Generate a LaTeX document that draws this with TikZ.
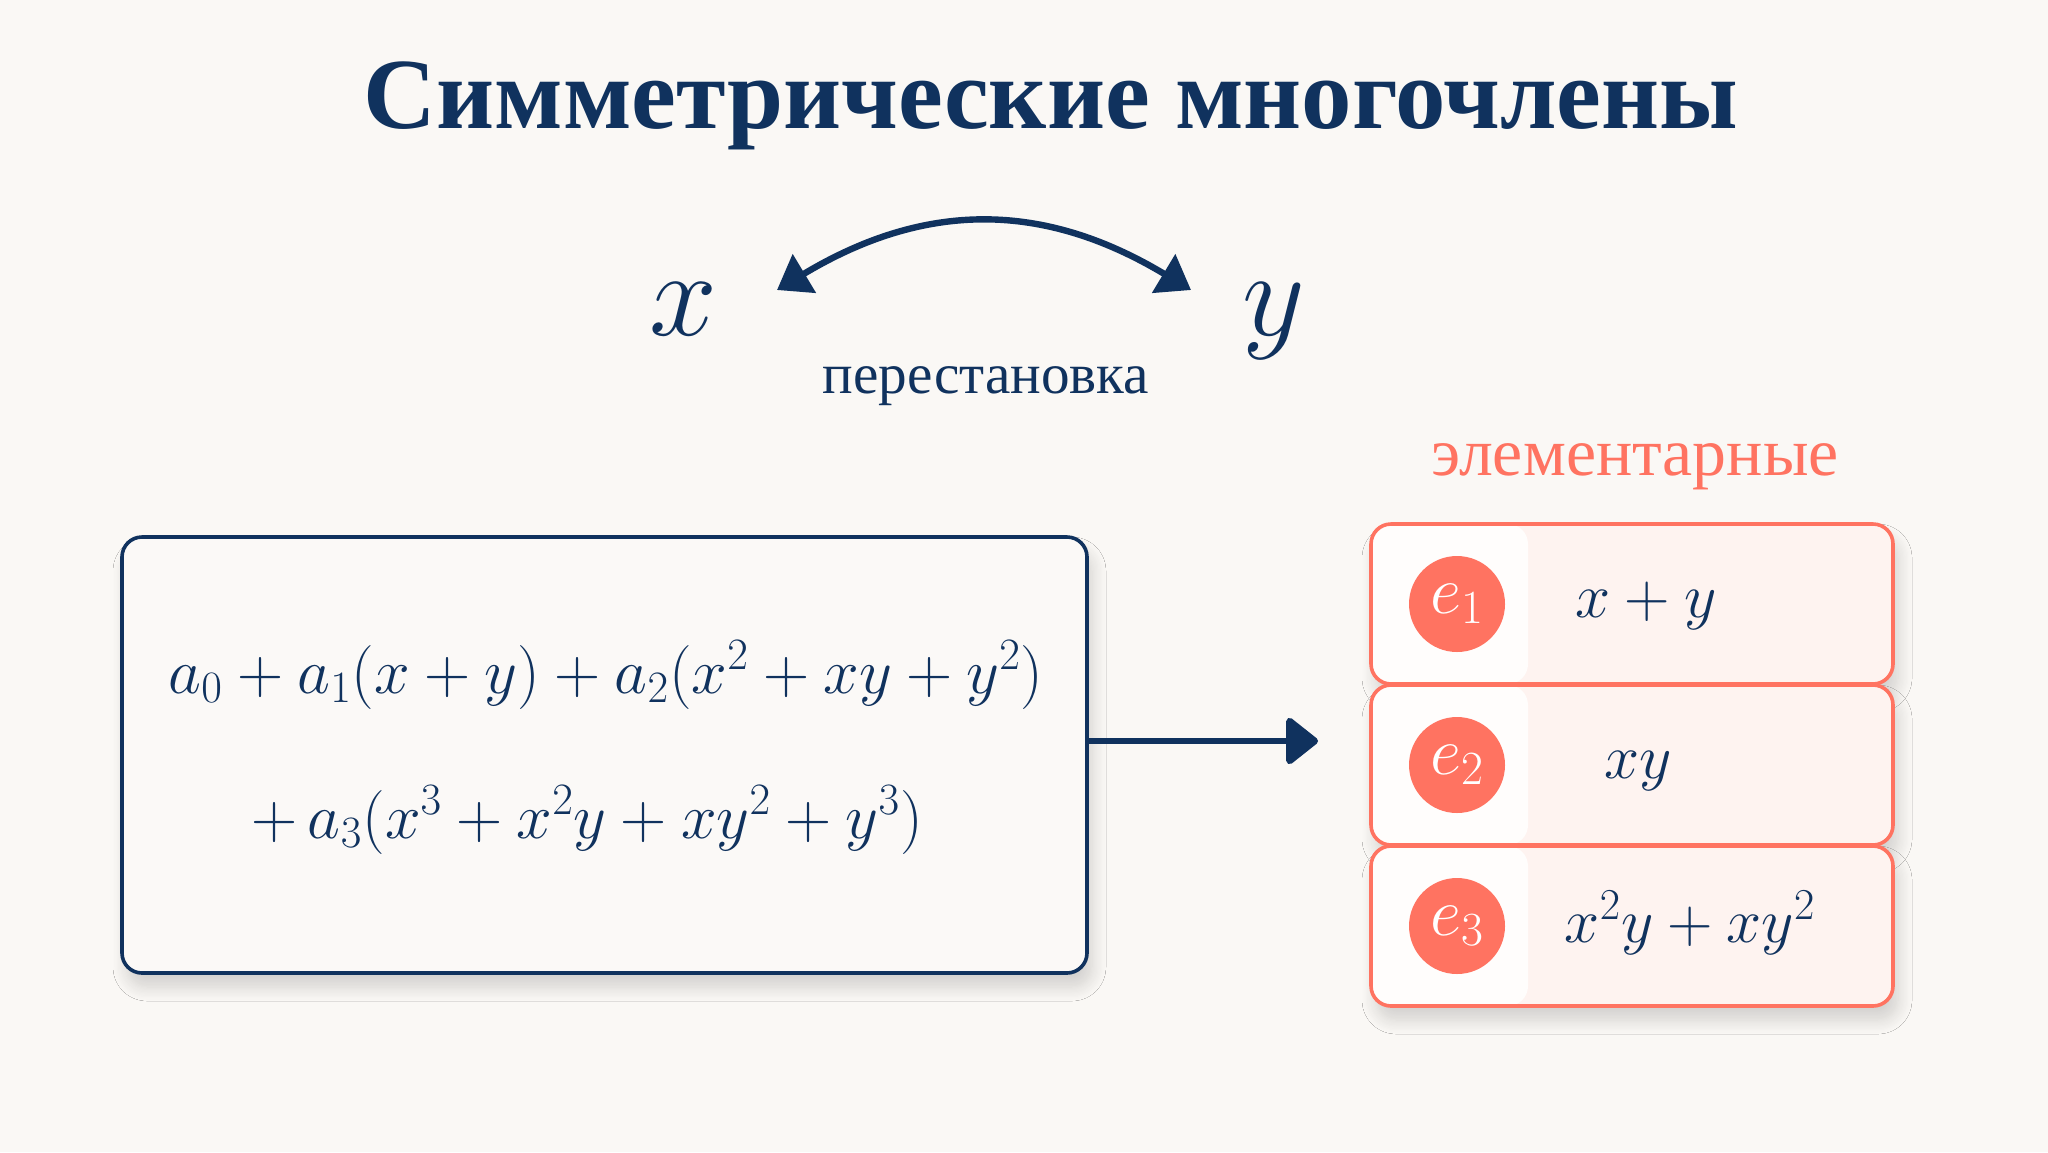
\RequirePackage{fix-cm}
\documentclass[tikz,border=0pt]{standalone}
\usepackage[no-math]{fontspec}
\setmainfont{Liberation Serif}
\usetikzlibrary{arrows.meta,shadows.blur}
\definecolor{navy}{HTML}{10325E}
\definecolor{coral}{HTML}{FF7361}
\definecolor{pinkfill}{HTML}{FEF3F0}
\definecolor{leftfill}{HTML}{FFFDFC}
\definecolor{bg}{HTML}{FAF8F5}
\definecolor{boxfill}{HTML}{FBF9F7}
\tikzset{
  mathfont/.style={font=\fontsize{31.5}{36}\selectfont, text=navy},
  bigmath/.style={font=\fontsize{32}{38}\selectfont, text=navy},
  softshadow/.style={blur shadow={shadow xshift=2.5pt, shadow yshift=-7pt, shadow blur radius=7pt,
    shadow blur extra rounding=5pt, shadow blur steps=12, shadow opacity=16}},
  mainbox/.style={draw=navy, line width=1.8pt, fill=boxfill, rounded corners=10pt,
    minimum width=482.5pt, minimum height=218pt, softshadow},
  elbox/.style={draw=coral, line width=1.8pt, fill=pinkfill, rounded corners=10pt,
    minimum width=261pt, minimum height=80pt, softshadow,
    path picture={\fill[leftfill] (path picture bounding box.south west) rectangle ([xshift=78.5pt]path picture bounding box.north west);}},
  badge/.style={circle, fill=coral, minimum size=48pt, inner sep=0pt, text=white, font=\fontsize{34}{38}\selectfont},
}
\begin{document}
\begin{tikzpicture}[x=0.5pt,y=-0.5pt]
\fill[bg] (0,0) rectangle (2048,1152);
\useasboundingbox (0,0) rectangle (2048,1152);

\node[font=\fontsize{50.4}{60}\selectfont\bfseries, text=navy, anchor=base] (title) at (1051,128) {Симметрические многочлены};

\node[font=\fontsize{61}{64}\selectfont, text=navy, anchor=base] (vx) at (683,335) {$x$};
\node[font=\fontsize{61}{64}\selectfont, text=navy, anchor=base] (vy) at (1274,335) {$y$};
\coordinate (arcL) at (777,290);
\coordinate (arcR) at (1191,290);
\draw[navy, line width=3.2pt, {Triangle[length=16pt,width=22pt]}-{Triangle[length=16pt,width=22pt]}]
  (arcL) .. controls (925,201) and (1043,201) .. (arcR);
\node[font=\fontsize{28.6}{32}\selectfont, text=navy, anchor=base] (perm) at (986,393) {перестановка};

\node[mainbox] (main) at (604.5,755) {};
\node[bigmath, anchor=base] (l1) at (606,693) {$a_0 + a_1(x+y) + a_2(x^2+xy+y^2)$};
\node[bigmath, anchor=base] (l2) at (587,838) {$+\, a_3(x^3+x^2y+xy^2+y^3)$};

\coordinate (atip) at (1318,741);
\draw[navy, line width=3.4pt, -{Triangle[length=17pt,width=26pt,round]}] (main.east |- atip) -- (atip);

\node[font=\fontsize{33.9}{36}\selectfont, text=coral, anchor=base] (elem) at (1635,475) {элементарные};

\node[elbox] (b1) at (1632,604) {};
\node[elbox] (b2) at (1632,765) {};
\node[elbox] (b3) at (1632,926) {};

\node[badge] (c1) at (1457,604) {$e_1$};
\node[badge] (c2) at (1457,765) {$e_2$};
\node[badge] (c3) at (1457,926) {$e_3$};

\node[mathfont, anchor=base] (m1) at (1646,617) {$x+y$};
\node[mathfont, anchor=base] (m2) at (1638,778) {$xy$};
\node[mathfont, anchor=base] (m3) at (1690,942) {$x^2y+xy^2$};
\end{tikzpicture}
\end{document}
